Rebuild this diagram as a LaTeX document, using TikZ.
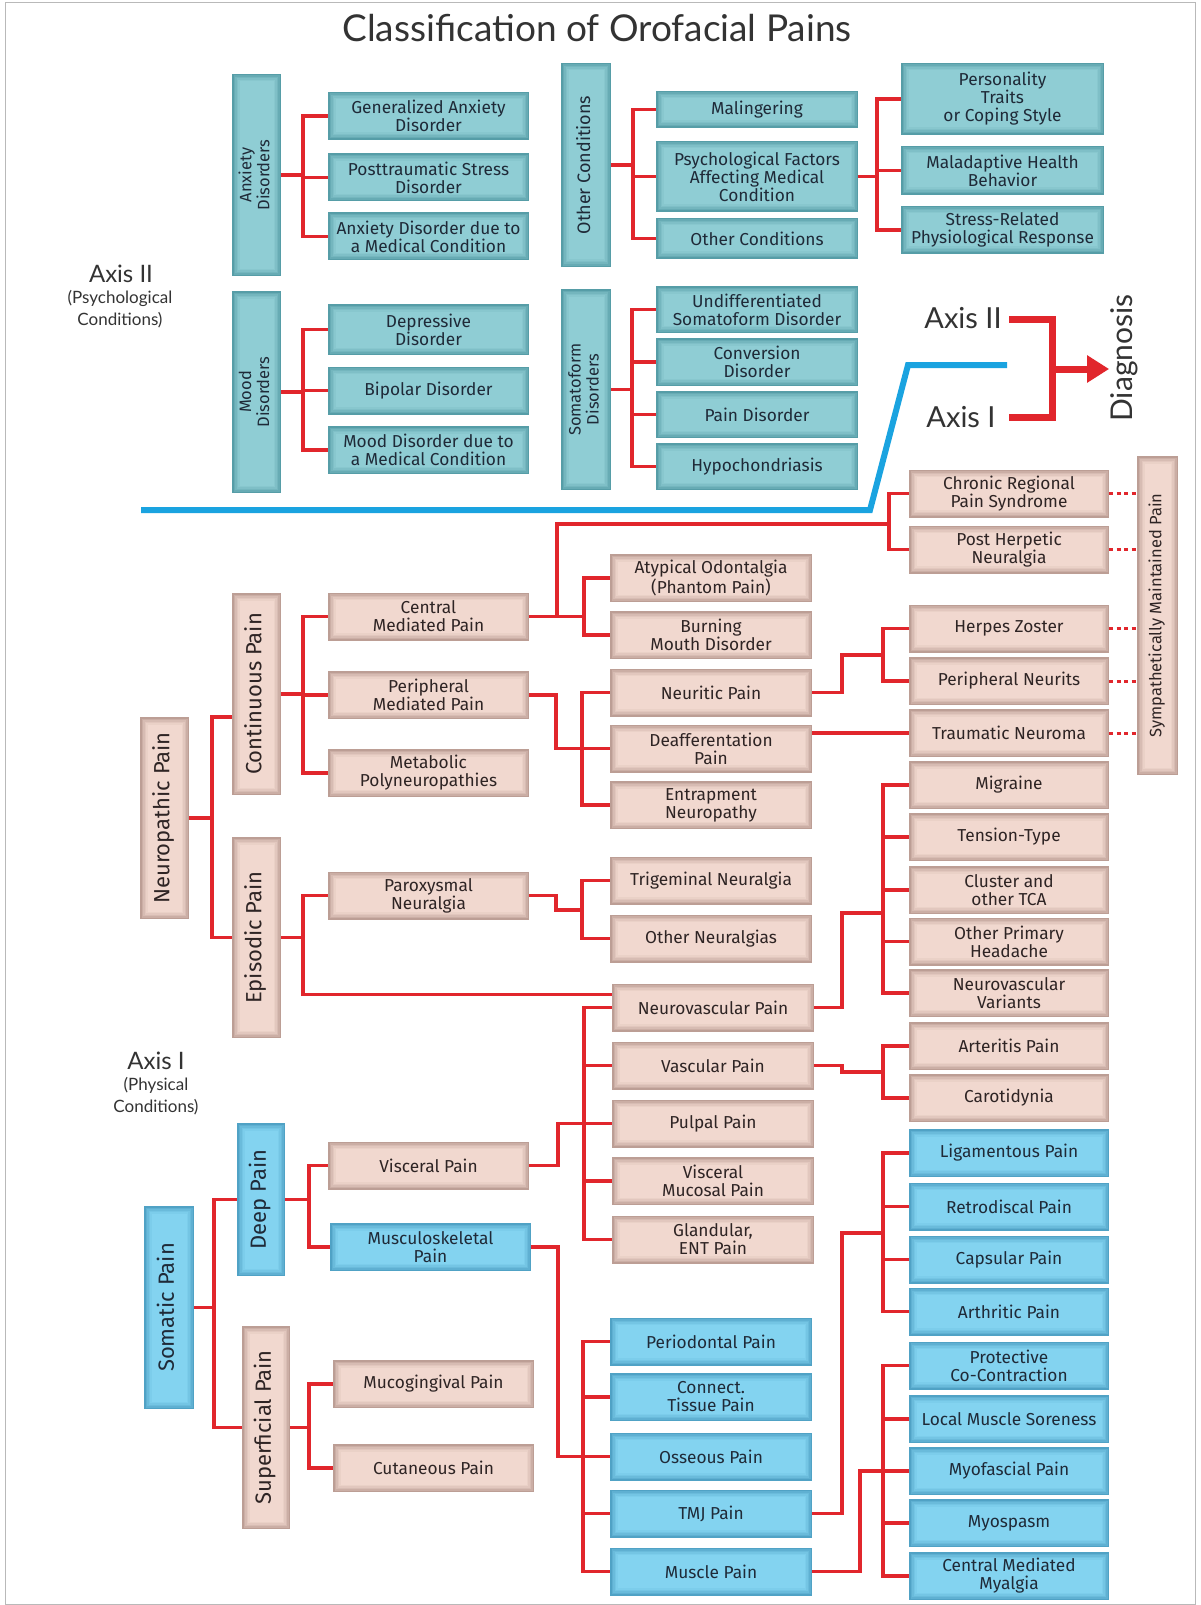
\documentclass[tikz,border=0pt]{standalone}
\usepackage{fontspec}
\setmainfont{Lato}
\newfontfamily\boxfont{Fira Sans}
\usepackage{graphicx}
\usetikzlibrary{arrows.meta}

\definecolor{tealin}{HTML}{8FCDD4}
\definecolor{tealout}{HTML}{3E8893}
\definecolor{pinkin}{HTML}{F1D8CF}
\definecolor{pinkout}{HTML}{A5857C}
\definecolor{bluein}{HTML}{83D3F0}
\definecolor{blueout}{HTML}{3A8DB3}
\definecolor{linkred}{HTML}{E1262C}
\definecolor{axisblue}{HTML}{1AA3E0}
\definecolor{inktext}{HTML}{1F2A38}
\definecolor{browntext}{HTML}{2E2424}
\definecolor{labelgray}{HTML}{333333}

\newcommand{\vlab}[1]{\rotatebox{90}{\begin{tabular}{@{}c@{}}#1\end{tabular}}}

\tikzset{
  glow/.style 2 args={path picture={
      \foreach \k/\q in {0/30,1.5/50,3/66,4.5/80,6/91,7.5/100}
        \fill[#1!\q!#2] ([shift={(\k pt,-\k pt)}]path picture bounding box.north west)
          rectangle ([shift={(-\k pt,\k pt)}]path picture bounding box.south east);}},
  box/.style={rectangle, inner sep=1pt, outer sep=0pt, align=center,
    minimum width=201, minimum height=48, font=\boxfont\fontsize{17.3}{18}\selectfont},
  tealbox/.style={box, glow={tealin}{tealout}, text=inktext},
  pinkbox/.style={box, glow={pinkin}{pinkout}, text=browntext},
  bluebox/.style={box, glow={bluein}{blueout}, text=inktext},
  vsmall/.style={minimum width=49, font=\boxfont\fontsize{16.5}{17}\selectfont},
  vbig/.style={minimum width=49, font=\boxfont\fontsize{22}{24}\selectfont},
  link/.style={draw=linkred, line width=3.5pt},
  dotlink/.style={draw=linkred, line width=3pt, dash pattern=on 4pt off 3.5pt},
  axisline/.style={draw=axisblue, line width=6pt, line join=miter},
  brk/.style={draw=linkred, line width=7pt},
  bigaxis/.style={text=labelgray, font=\fontsize{24}{26}\selectfont},
  subaxis/.style={text=labelgray, align=center, font=\fontsize{17}{22}\selectfont},
}

\begin{document}
\begin{tikzpicture}[x=1pt,y=-1pt]
      \useasboundingbox (0,0) rectangle (1200,1605);
      \draw [gray!55, line width=1] (5,3) rectangle (1195,1604);

      \node [text=labelgray, font=\fontsize{37}{40}\selectfont] (title) at (597,28) {Classification of Orofacial Pains};

      \node [bigaxis] (ax2big) at (121,274) {Axis II};
      \node [subaxis] (ax2sub) at (120,309) {(Psychological\\Conditions)};
      \node [bigaxis] (ax1big) at (156,1061) {Axis I};
      \node [subaxis] (ax1sub) at (156,1096) {(Physical\\Conditions)};

      % axis II boxes
      \node [tealbox, vsmall, minimum height=202] (anx) at (256.5,175) {\vlab{Anxiety\\Disorders}};
      \node [tealbox, vsmall, minimum height=202] (mood) at (256.5,392) {\vlab{Mood\\Disorders}};
      \node [tealbox, minimum width=50, minimum height=204, font=\boxfont\fontsize{18}{19}\selectfont] (othc) at (586,165) {\vlab{Other Conditions}};
      \node [tealbox, vsmall, minimum width=50, minimum height=201] (soma) at (586,389.5) {\vlab{Somatoform\\Disorders}};

      \node [tealbox] (gad) at (428.5,116) {Generalized Anxiety\\Disorder};
      \node [tealbox] (ptsd) at (428.5,177.5) {Posttraumatic Stress\\Disorder};
      \node [tealbox] (adm) at (428.5,236.5) {Anxiety Disorder due to\\a Medical Condition};
      \node [tealbox, minimum height=51] (dep) at (428.5,329.5) {Depressive\\Disorder};
      \node [tealbox] (bip) at (428.5,390.5) {Bipolar Disorder};
      \node [tealbox] (mdm) at (428.5,450) {Mood Disorder due to\\a Medical Condition};

      \node [tealbox, minimum width=202, minimum height=37] (mal) at (757,109.5) {Malingering};
      \node [tealbox, minimum width=202, minimum height=71] (psy) at (757,176.5) {Psychological Factors\\Affecting Medical\\Condition};
      \node [tealbox, minimum width=202, minimum height=41] (oth) at (757,238.5) {Other Conditions};
      \node [tealbox, minimum width=202, minimum height=47] (und) at (757,309.5) {Undifferentiated\\Somatoform Disorder};
      \node [tealbox, minimum width=202] (conv) at (757,362) {Conversion\\Disorder};
      \node [tealbox, minimum width=202, minimum height=47] (pdis) at (757,414.5) {Pain Disorder};
      \node [tealbox, minimum width=202, minimum height=47] (hypo) at (757,466.5) {Hypochondriasis};

      \node [tealbox, minimum width=203, minimum height=72] (pers) at (1002.5,99) {Personality\\Traits\\or Coping Style};
      \node [tealbox, minimum width=203, minimum height=49] (mal2) at (1002.5,170.5) {Maladaptive Health\\Behavior};
      \node [tealbox, minimum width=203] (stress) at (1002.5,230) {Stress-Related\\Physiological Response};

      \foreach \c in {gad,ptsd,adm} \draw [link] (anx.east) -- ++(22,0) |- (\c.west);
      \foreach \c in {dep,bip,mdm} \draw [link] (mood.east) -- ++(22,0) |- (\c.west);
      \foreach \c in {mal,psy,oth} \draw [link] (othc.east) -- ++(22,0) |- (\c.west);
      \foreach \c in {und,conv,pdis,hypo} \draw [link] (soma.east) -- ++(21,0) |- (\c.west);
      \foreach \c in {pers,mal2,stress} \draw [link] (psy.east) -- ++(19,0) |- (\c.west);

      % axis divider and diagnosis
      \draw [axisline] (141,510) -- (870,510) -- (908,365) -- (1007,365);
      \node [text=labelgray, font=\fontsize{29}{31}\selectfont] (ax2) at (963,318) {Axis II};
      \node [text=labelgray, font=\fontsize{29}{31}\selectfont] (ax1) at (961,417) {Axis I};
      \node [text=labelgray, rotate=90, inner sep=1pt, font=\fontsize{30}{32}\selectfont] (diag) at (1124,358) {Diagnosis};
      \draw [brk] (1009,319) -| (1052,417) -- (1009,417);
      \coordinate (brmid) at (1052,369);
      \draw [brk, -{Triangle[length=22pt,width=26pt]}] (brmid) -- (brmid -| diag.north);

      % axis I boxes
      \node [pinkbox, vbig, minimum height=202] (neur) at (164.5,818) {\vlab{Neuropathic Pain}};
      \node [pinkbox, vbig, minimum height=202] (cont) at (256.5,694) {\vlab{Continuous Pain}};
      \node [pinkbox, vbig, minimum height=201] (epi) at (256.5,937.5) {\vlab{Episodic Pain}};
      \node [bluebox, vbig, minimum width=50, minimum height=203] (som) at (169,1307.5) {\vlab{Somatic Pain}};
      \node [bluebox, vbig, minimum width=48, minimum height=153] (deep) at (261,1199.5) {\vlab{Deep Pain}};
      \node [pinkbox, vbig, minimum width=48, minimum height=203] (sup) at (266,1427.5) {\vlab{Superficial Pain}};
      \node [pinkbox, minimum width=41, minimum height=319, font=\boxfont\fontsize{16.5}{18}\selectfont] (smp) at (1157.5,615.5) {\vlab{Sympathetically Maintained Pain}};

      \node [pinkbox] (cmp) at (428.5,616.5) {Central\\Mediated Pain};
      \node [pinkbox] (pmp) at (428.5,695) {Peripheral\\Mediated Pain};
      \node [pinkbox] (mpn) at (428.5,773) {Metabolic\\Polyneuropathies};
      \node [pinkbox] (pxn) at (428.5,895.5) {Paroxysmal\\Neuralgia};
      \node [pinkbox] (vis) at (428.5,1165.5) {Visceral Pain};
      \node [bluebox] (msk) at (430.5,1247) {Musculoskeletal\\Pain};
      \node [pinkbox] (muco) at (433.5,1384) {Mucogingival Pain};
      \node [pinkbox] (cut) at (433.5,1468) {Cutaneous Pain};

      \node [pinkbox, minimum width=202] (ao) at (711,578) {Atypical Odontalgia\\(Phantom Pain)};
      \node [pinkbox, minimum width=202] (bmd) at (711,635) {Burning\\Mouth Disorder};
      \node [pinkbox, minimum width=202] (neu) at (711,692.5) {Neuritic Pain};
      \node [pinkbox, minimum width=202] (deaf) at (711,748.5) {Deafferentation\\Pain};
      \node [pinkbox, minimum width=202] (ent) at (711,805) {Entrapment\\Neuropathy};
      \node [pinkbox, minimum width=202] (tri) at (711,880.5) {Trigeminal Neuralgia};
      \node [pinkbox, minimum width=202] (othn) at (711,938.5) {Other Neuralgias};
      \node [pinkbox, minimum width=202] (nvp) at (713,1007.5) {Neurovascular Pain};
      \node [pinkbox, minimum width=202] (vas) at (713,1065.5) {Vascular Pain};
      \node [pinkbox, minimum width=202] (pul) at (713,1123.5) {Pulpal Pain};
      \node [pinkbox, minimum width=202] (vmp) at (713,1181) {Visceral\\Mucosal Pain};
      \node [pinkbox, minimum width=202] (gent) at (713,1239.5) {Glandular,\\ENT Pain};
      \node [bluebox, minimum width=202] (perio) at (711,1341.5) {Periodontal Pain};
      \node [bluebox, minimum width=202] (ctp) at (711,1397) {Connect.\\Tissue Pain};
      \node [bluebox, minimum width=202] (oss) at (711,1456.5) {Osseous Pain};
      \node [bluebox, minimum width=202] (tmj) at (711,1513.5) {TMJ Pain};
      \node [bluebox, minimum width=202] (musc) at (711,1571.5) {Muscle Pain};

      \node [pinkbox, minimum width=200] (crps) at (1009,493.5) {Chronic Regional\\Pain Syndrome};
      \node [pinkbox, minimum width=200] (phn) at (1009,549.5) {Post Herpetic\\Neuralgia};
      \node [pinkbox, minimum width=200] (hz) at (1009,628.5) {Herpes Zoster};
      \node [pinkbox, minimum width=200] (pn) at (1009,681) {Peripheral Neurits};
      \node [pinkbox, minimum width=200] (tn) at (1009,733) {Traumatic Neuroma};
      \node [pinkbox, minimum width=200] (mig) at (1009,785) {Migraine};
      \node [pinkbox, minimum width=200] (tt) at (1009,837) {Tension-Type};
      \node [pinkbox, minimum width=200] (clu) at (1009,890) {Cluster and\\other TCA};
      \node [pinkbox, minimum width=200] (oph) at (1009,941.5) {Other Primary\\Headache};
      \node [pinkbox, minimum width=200] (nvv) at (1009,993) {Neurovascular\\Variants};
      \node [pinkbox, minimum width=200] (art) at (1009,1046) {Arteritis Pain};
      \node [pinkbox, minimum width=200] (car) at (1009,1098) {Carotidynia};
      \node [bluebox, minimum width=200] (lig) at (1009,1153) {Ligamentous Pain};
      \node [bluebox, minimum width=200] (ret) at (1009,1206.5) {Retrodiscal Pain};
      \node [bluebox, minimum width=200] (cap) at (1009,1259.5) {Capsular Pain};
      \node [bluebox, minimum width=200] (arth) at (1009,1311.5) {Arthritic Pain};
      \node [bluebox, minimum width=200] (prot) at (1009,1365.5) {Protective\\Co-Contraction};
      \node [bluebox, minimum width=200] (lms) at (1009,1419) {Local Muscle Soreness};
      \node [bluebox, minimum width=200] (myo) at (1009,1471) {Myofascial Pain};
      \node [bluebox, minimum width=200] (msp) at (1009,1523) {Myospasm};
      \node [bluebox, minimum width=200] (cmm) at (1009,1576) {Central Mediated\\Myalgia};

      % junctions
      \coordinate (crj) at (889,524);
      \coordinate (pj) at (582,748.5);
      \coordinate (nj) at (883,655);
      \coordinate (xj) at (582,910);
      \coordinate (vj) at (883,913);
      \coordinate (aj) at (883,1072);
      \coordinate (sj) at (584,1123.5);
      \coordinate (mj) at (583,1456.5);
      \coordinate (tj) at (883,1233);
      \coordinate (uj) at (883,1471);

      \draw [link] (neur.east) -- ++(23,0) |- ([yshift=-23pt]cont.west);
      \draw [link] (neur.east) -- ++(23,0) |- (epi.west);
      \foreach \c in {cmp,pmp,mpn} \draw [link] (cont.east) -- ++(22,0) |- (\c.west);
      \draw [link] (epi.east) -- ++(22,0) |- (pxn.west);
      \draw [link] (epi.east) -- ++(22,0) |- ([yshift=13pt]nvp.west);

      \draw [link] (cmp.east) -- ++(28,0) |- (crj);
      \foreach \c in {crps,phn} \draw [link] (crj) |- (\c.west);
      \foreach \c in {ao,bmd} \draw [link] (cmp.east) -- ++(55,0) |- (\c.west);

      \draw [link] (pmp.east) -- ++(27,0) |- (pj);
      \foreach \c in {neu,deaf,ent} \draw [link] (pj) |- (\c.west);
      \draw [link] (neu.east) -- ++(30,0) |- (nj);
      \foreach \c in {hz,pn} \draw [link] (nj) |- (\c.west);
      \draw [link] (deaf.east |- tn.west) -- (tn.west);
      \foreach \c in {crps,phn,hz,pn,tn} \draw [dotlink] (\c.east) -- (\c.east -| smp.west);

      \draw [link] (pxn.east) -- ++(27,0) |- (xj);
      \foreach \c in {tri,othn} \draw [link] (xj) |- (\c.west);
      \draw [link] (nvp.east) -- ++(28,0) |- (vj);
      \foreach \c in {mig,tt,clu,oph,nvv} \draw [link] (vj) |- (\c.west);
      \draw [link] (vas.east) -- ++(28,0) |- (aj);
      \foreach \c in {art,car} \draw [link] (aj) |- (\c.west);

      \foreach \c in {deep,sup} \draw [link] (som.east) -- ++(20,0) |- (\c.west);
      \foreach \c in {vis,msk} \draw [link] (deep.east) -- ++(24,0) |- (\c.west);
      \foreach \c in {muco,cut} \draw [link] (sup.east) -- ++(19,0) |- (\c.west);

      \draw [link] (vis.east) -- ++(29,0) |- (sj);
      \foreach \c in {nvp,vas,pul,vmp,gent} \draw [link] (sj) |- (\c.west);
      \draw [link] (msk.east) -- ++(27,0) |- (mj);
      \foreach \c in {perio,ctp,oss,tmj,musc} \draw [link] (mj) |- (\c.west);
      \draw [link] (tmj.east) -- ++(30,0) |- (tj);
      \foreach \c in {lig,ret,cap,arth} \draw [link] (tj) |- (\c.west);
      \draw [link] (musc.east) -- ++(48,0) |- (uj);
      \foreach \c in {prot,lms,myo,msp,cmm} \draw [link] (uj) |- (\c.west);
\end{tikzpicture}
\end{document}
